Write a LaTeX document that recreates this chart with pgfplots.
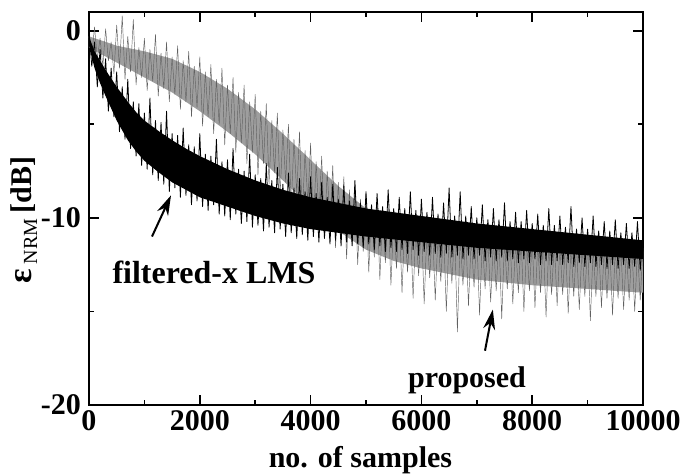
\documentclass[border=0pt]{standalone}
\usepackage{fontspec}
\setmainfont{Liberation Serif}
\usepackage{pgfplots}
\pgfplotsset{compat=1.18}
\usetikzlibrary{arrows.meta}
\newcommand{\bigf}{\fontsize{30}{30}\selectfont\bfseries}
\begin{document}
\begin{tikzpicture}
\begin{axis}[
  name=ax,
  scale only axis,
  width=554pt, height=393pt,
  xmin=0, xmax=10000, ymin=-20, ymax=1,
  scaled x ticks=false,
  xtick={0,2000,4000,6000,8000,10000},
  xticklabels={0,2000,4000,6000,8000,10000},
  minor xtick={1000,3000,5000,7000,9000},
  ytick={-20,-10,0},
  yticklabels={-20,-10,0},
  minor ytick={-15,-5},
  tick pos=both,
  tick align=inside,
  major tick length=10pt,
  minor tick length=5pt,
  every tick/.style={line width=1.6pt, black},
  axis line style={line width=1.6pt},
  ticklabel style={font=\bigf},
  xticklabel style={inner sep=0pt, yshift=-5pt},
  yticklabel style={inner sep=0pt, xshift=-8pt},
  xlabel={no. of samples},
  xlabel style={font=\bigf, at={(rel axis cs:0.49,-0.16)}, anchor=base},
  ylabel={{\fontsize{34}{34}\selectfont ε}\,\raisebox{-6pt}{\fontsize{20}{20}\selectfont\mdseries NRM}\,[dB]},
  ylabel style={font=\bigf, at={(rel axis cs:-0.118,0.47)}, anchor=center},
]
% proposed: band
\addplot[fill=black!38, draw=none] coordinates {
(0,-0.3) (500,-0.8) (1000,-1.1) (1500,-1.5) (2000,-2.2) (2500,-3.1) (3000,-4.2) (3500,-5.5) (4000,-6.9) (4500,-8.3) (5000,-9.5) (5500,-10.3) (6000,-10.8) (7000,-11.3) (8000,-11.5) (9000,-11.7) (10000,-11.8)
(10000,-14.0) (9000,-13.8) (8000,-13.6) (7000,-13.3) (6000,-12.7) (5500,-12.3) (5000,-11.7) (4500,-10.7) (4000,-9.4) (3500,-8.0) (3000,-6.6) (2500,-5.4) (2000,-4.3) (1500,-3.3) (1000,-2.5) (500,-1.7) (0,-0.9)
} -- cycle;
% proposed: trace
\addplot[black!62, line width=0.45pt, line join=round] coordinates {
(0,-0.3) (50,-1.3) (100,0.2) (150,-1.5) (200,-0.4) (250,-1.9) (300,0.1) (350,-1.6) (400,-0.6) (450,-2.3)
(500,0.3) (550,-2.0) (600,0.8) (650,-2.6) (700,-0.3) (750,-2.2) (800,0.6) (850,-2.9) (900,-0.9) (950,-2.5)
(1000,-0.4) (1050,-3.2) (1100,-1.0) (1150,-2.7) (1200,-0.2) (1250,-3.5) (1300,-1.2) (1350,-3.1) (1400,-0.6) (1450,-3.8)
(1500,-1.4) (1550,-3.4) (1600,-0.8) (1650,-4.2) (1700,-1.6) (1750,-3.8) (1800,-1.1) (1850,-4.6) (1900,-1.9) (1950,-4.1)
(2000,-1.4) (2050,-5.1) (2100,-2.2) (2150,-4.6) (2200,-1.8) (2250,-5.5) (2300,-2.6) (2350,-5.0) (2400,-2.0) (2450,-6.1)
(2500,-2.9) (2550,-5.5) (2600,-2.5) (2650,-6.5) (2700,-3.3) (2750,-6.0) (2800,-2.9) (2850,-7.1) (2900,-3.8) (2950,-6.5)
(3000,-3.4) (3050,-7.7) (3100,-4.3) (3150,-7.1) (3200,-3.9) (3250,-8.2) (3300,-4.8) (3350,-7.6) (3400,-4.4) (3450,-8.8)
(3500,-5.3) (3550,-8.1) (3600,-5.0) (3650,-9.4) (3700,-5.8) (3750,-8.7) (3800,-5.4) (3850,-10.0) (3900,-6.4) (3950,-9.2)
(4000,-6.0) (4050,-10.5) (4100,-7.0) (4150,-9.8) (4200,-6.7) (4250,-11.0) (4300,-7.5) (4350,-10.3) (4400,-7.2) (4450,-11.6)
(4500,-8.1) (4550,-10.9) (4600,-7.8) (4650,-12.2) (4700,-8.5) (4750,-11.4) (4800,-8.3) (4850,-12.5) (4900,-9.0) (4950,-11.8)
(5000,-8.8) (5050,-12.9) (5100,-9.4) (5150,-12.1) (5200,-9.2) (5250,-13.3) (5300,-9.7) (5350,-12.4) (5400,-9.5) (5450,-13.6)
(5500,-10.0) (5550,-12.7) (5600,-9.8) (5650,-14.0) (5700,-10.3) (5750,-12.9) (5800,-10.1) (5850,-14.3) (5900,-10.5) (5950,-13.1)
(6000,-10.3) (6050,-14.6) (6100,-10.7) (6150,-13.2) (6200,-10.5) (6250,-14.4) (6300,-10.8) (6350,-13.4) (6400,-10.6) (6450,-15.0)
(6500,-10.9) (6550,-13.5) (6600,-10.7) (6650,-16.1) (6700,-11.0) (6750,-13.6) (6800,-10.8) (6850,-14.7) (6900,-11.1) (6950,-13.7)
(7000,-10.9) (7050,-15.2) (7100,-11.1) (7150,-13.8) (7200,-11.0) (7250,-14.5) (7300,-11.2) (7350,-13.9) (7400,-11.0) (7450,-15.4)
(7500,-11.2) (7550,-13.8) (7600,-11.1) (7650,-14.6) (7700,-11.3) (7750,-14.0) (7800,-11.1) (7850,-15.0) (7900,-11.3) (7950,-13.9)
(8000,-11.2) (8050,-14.8) (8100,-11.4) (8150,-14.0) (8200,-11.2) (8250,-15.3) (8300,-11.4) (8350,-14.1) (8400,-11.3) (8450,-14.7)
(8500,-11.5) (8550,-14.1) (8600,-11.3) (8650,-15.1) (8700,-11.5) (8750,-14.2) (8800,-11.4) (8850,-14.9) (8900,-11.5) (8950,-14.2)
(9000,-11.4) (9050,-15.5) (9100,-11.6) (9150,-14.2) (9200,-11.4) (9250,-14.8) (9300,-11.6) (9350,-14.3) (9400,-11.5) (9450,-15.2)
(9500,-11.6) (9550,-14.3) (9600,-11.5) (9650,-14.9) (9700,-11.7) (9750,-14.4) (9800,-11.5) (9850,-15.0) (9900,-11.7) (9950,-14.4)
(10000,-11.6)
};
% filtered-x LMS: band
\addplot[fill=black, draw=none] coordinates {
(0,-0.3) (100,-1.1) (200,-1.6) (300,-2.1) (500,-3.0) (700,-3.8) (850,-4.35) (1000,-4.8) (1250,-5.35) (1500,-5.85) (1750,-6.3) (2000,-6.7) (2500,-7.4) (3000,-8.0) (3500,-8.5) (4000,-8.9) (5000,-9.5) (6000,-9.9) (7000,-10.3) (8000,-10.6) (9000,-10.9) (10000,-11.2)
(10000,-12.2) (9000,-12.0) (8000,-11.8) (7000,-11.6) (6000,-11.3) (5000,-11.0) (4000,-10.6) (3500,-10.3) (3000,-9.9) (2500,-9.4) (2000,-8.9) (1750,-8.5) (1500,-8.1) (1250,-7.55) (1000,-6.95) (850,-6.45) (700,-5.85) (500,-4.8) (300,-3.5) (200,-2.8) (100,-2.0) (0,-0.8)
} -- cycle;
% filtered-x LMS: trace
\addplot[black, line width=0.8pt, line join=round] coordinates {
(0,0.0) (50,-1.9) (100,-0.6) (150,-3.0) (200,-1.0) (250,-3.6) (300,-1.5) (350,-4.3) (400,-2.0) (450,-4.6)
(500,-2.2) (550,-5.4) (600,-3.0) (650,-5.8) (700,-2.6) (750,-6.3) (800,-3.8) (850,-6.7) (900,-3.9) (950,-7.2)
(1000,-4.4) (1050,-7.4) (1100,-3.6) (1150,-7.7) (1200,-4.8) (1250,-8.0) (1300,-4.9) (1350,-8.2) (1400,-4.3) (1450,-8.6)
(1500,-5.5) (1550,-8.4) (1600,-5.6) (1650,-8.9) (1700,-5.2) (1750,-8.8) (1800,-6.1) (1850,-9.3) (1900,-6.2) (1950,-9.1)
(2000,-5.5) (2050,-9.4) (2100,-6.6) (2150,-9.6) (2200,-6.7) (2250,-9.3) (2300,-5.8) (2350,-9.8) (2400,-7.0) (2450,-9.9)
(2500,-6.9) (2550,-10.1) (2600,-6.3) (2650,-9.8) (2700,-7.4) (2750,-10.3) (2800,-7.5) (2850,-10.2) (2900,-6.6) (2950,-10.5)
(3000,-7.7) (3050,-10.4) (3100,-7.9) (3150,-10.7) (3200,-7.1) (3250,-10.5) (3300,-8.0) (3350,-10.8) (3400,-7.3) (3450,-10.6)
(3500,-8.2) (3550,-11.0) (3600,-7.6) (3650,-10.8) (3700,-8.4) (3750,-11.1) (3800,-7.9) (3850,-10.9) (3900,-8.6) (3950,-11.2)
(4000,-7.8) (4050,-11.0) (4100,-8.7) (4150,-11.3) (4200,-8.1) (4250,-11.1) (4300,-8.9) (4350,-11.4) (4400,-8.2) (4450,-11.2)
(4500,-9.0) (4550,-11.5) (4600,-8.3) (4650,-11.3) (4700,-9.1) (4750,-11.5) (4800,-8.0) (4850,-11.4) (4900,-9.2) (4950,-11.6)
(5000,-8.6) (5050,-11.4) (5100,-9.3) (5150,-11.7) (5200,-8.7) (5250,-11.5) (5300,-9.4) (5350,-11.8) (5400,-8.5) (5450,-11.6)
(5500,-9.5) (5550,-11.8) (5600,-8.9) (5650,-11.7) (5700,-9.5) (5750,-11.9) (5800,-8.6) (5850,-11.7) (5900,-9.6) (5950,-12.0)
(6000,-9.0) (6050,-11.8) (6100,-9.7) (6150,-12.0) (6200,-8.9) (6250,-11.9) (6300,-9.8) (6350,-12.1) (6400,-9.2) (6450,-11.9)
(6500,-8.4) (6550,-12.1) (6600,-9.9) (6650,-12.0) (6700,-8.6) (6750,-12.2) (6800,-9.9) (6850,-12.0) (6900,-9.4) (6950,-12.2)
(7000,-10.0) (7050,-12.0) (7100,-9.3) (7150,-12.3) (7200,-10.1) (7250,-12.1) (7300,-9.5) (7350,-12.3) (7400,-10.1) (7450,-12.1)
(7500,-9.2) (7550,-12.3) (7600,-10.2) (7650,-12.2) (7700,-9.7) (7750,-12.4) (7800,-10.2) (7850,-12.2) (7900,-9.6) (7950,-12.4)
(8000,-10.3) (8050,-12.2) (8100,-9.8) (8150,-12.5) (8200,-10.4) (8250,-12.3) (8300,-9.5) (8350,-12.5) (8400,-10.4) (8450,-12.3)
(8500,-9.9) (8550,-12.5) (8600,-10.5) (8650,-12.4) (8700,-9.4) (8750,-12.6) (8800,-10.6) (8850,-12.4) (8900,-10.0) (8950,-12.6)
(9000,-10.6) (9050,-12.4) (9100,-9.9) (9150,-12.6) (9200,-10.7) (9250,-12.5) (9300,-10.2) (9350,-12.7) (9400,-10.7) (9450,-12.5)
(9500,-10.1) (9550,-12.7) (9600,-10.8) (9650,-12.5) (9700,-10.3) (9750,-12.7) (9800,-10.8) (9850,-12.6) (9900,-10.2) (9950,-12.8)
(10000,-10.9)
};
\node[font=\fontsize{32}{32}\selectfont\bfseries] at (2256,-12.9) {filtered-x LMS};
\node[font=\bigf] at (6823,-18.7) {proposed};
\draw[line width=2pt, -{Stealth[length=20pt,width=12pt]}] (1137,-11.0) -- (1480,-8.8);
\draw[line width=2pt, -{Stealth[length=20pt,width=12pt]}] (7148,-17.1) -- (7290,-14.9);
\end{axis}
\pgfresetboundingbox
\path ([xshift=-89pt,yshift=-70pt]ax.south west) rectangle ([xshift=40pt,yshift=12pt]ax.north east);
\end{tikzpicture}
\end{document}
